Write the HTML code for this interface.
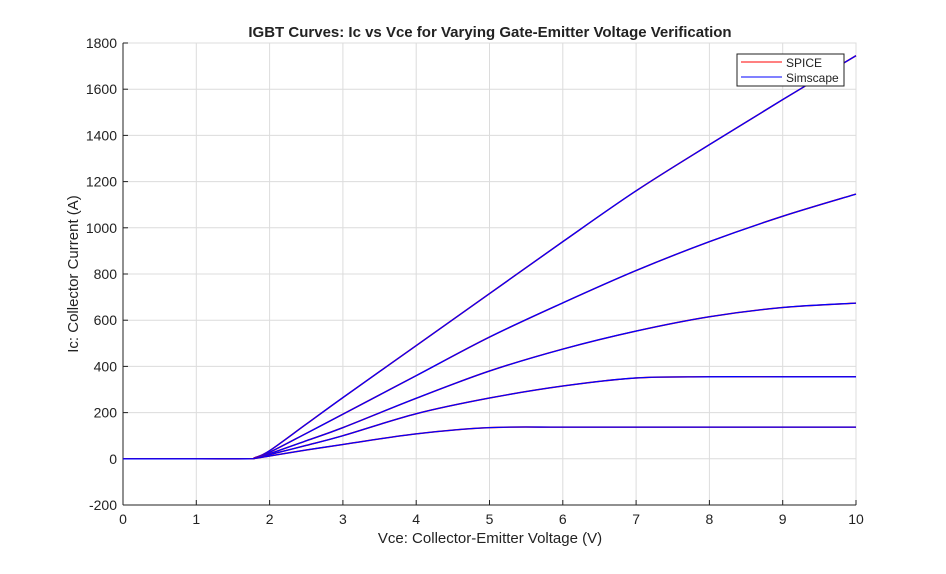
<!DOCTYPE html>
<html><head><meta charset="utf-8"><style>
body{margin:0;background:#fff;font-family:"Liberation Sans",sans-serif}
svg text{font-family:"Liberation Sans",sans-serif}
</style></head><body>
<svg id="chart" width="946" height="569">
<rect width="946" height="569" fill="#fff"/>
<g id="grid"></g><g id="axes"></g><g id="lines"></g>
<text x="490" y="37" text-anchor="middle" font-size="15" font-weight="bold" fill="#222">IGBT Curves: Ic vs Vce for Varying Gate-Emitter Voltage Verification</text>
<text x="490" y="543" text-anchor="middle" font-size="15" fill="#222">Vce: Collector-Emitter Voltage (V)</text>
<text transform="translate(78,274) rotate(-90)" text-anchor="middle" font-size="15" fill="#222">Ic: Collector Current (A)</text>
<g>
<rect x="737" y="54" width="107" height="32" fill="#fff" stroke="#222" stroke-width="1"/>
<line x1="741" y1="62" x2="782" y2="62" stroke="red"/>
<text x="786" y="67" font-size="12" fill="#222">SPICE</text>
<line x1="741" y1="77" x2="782" y2="77" stroke="blue"/>
<text x="786" y="82" font-size="12" fill="#222">Simscape</text>
</g>
</svg>
<script>
const xs=[0,1,1.7,1.8,2,2.5,3,4,5,6,7,8,9,10];
const c1=[0,0,0,5,35,150,265,490,715,940,1160,1360,1555,1745];
const c2=[0,0,0,4,28,110,193,360,527,675,815,940,1050,1146];
const c3=[0,0,0,3,22,78,135,262,380,475,553,615,655,674];
const c4=[0,0,0,2,18,58,100,195,263,315,350,355,355,355];
const c5=[0,0,0,2,12,38,62,108,135,137,137,137,137,137];
const curves=[c1,c2,c3,c4,c5];
const xTicks=[0,1,2,3,4,5,6,7,8,9,10];
const yTicks=[-200,0,200,400,600,800,1000,1200,1400,1600,1800];
const X0=123,X1=856,Y0=505,Y1=43;
const sx=v=>X0+(v-0)/10*(X1-X0);
const sy=v=>Y0-(v+200)/2000*(Y0-Y1);
const NS='http://www.w3.org/2000/svg';
function mk(t,a,p){const e=document.createElementNS(NS,t);for(const k in a)e.setAttribute(k,a[k]);p.appendChild(e);return e;}
const grid=document.getElementById('grid'),axes=document.getElementById('axes'),lines=document.getElementById('lines');
mk('rect',{x:X0,y:Y1,width:X1-X0,height:Y0-Y1,fill:'none',stroke:'#ddd'},grid);
xTicks.forEach(t=>{
 const l=mk('line',{x1:sx(t),x2:sx(t),y1:Y1,y2:Y0,stroke:'#dcdcdc'},grid);
 
 mk('line',{x1:sx(t),x2:sx(t),y1:Y0,y2:Y0-5,stroke:'#222'},axes);
 const tx=mk('text',{x:sx(t),y:Y0+19,'text-anchor':'middle','font-size':14,fill:'#222'},axes);tx.textContent=t;
 
});
yTicks.forEach(t=>{
 const l=mk('line',{x1:X0,x2:X1,y1:sy(t),y2:sy(t),stroke:'#dcdcdc'},grid);
 
 mk('line',{x1:X0,x2:X0+5,y1:sy(t),y2:sy(t),stroke:'#222'},axes);
 const tx=mk('text',{x:X0-6,y:sy(t)+5,'text-anchor':'end','font-size':14,fill:'#222'},axes);tx.textContent=t;
 
});
const xa=mk('line',{x1:X0,x2:X1,y1:Y0,y2:Y0,stroke:'#222'},axes);

const ya=mk('line',{x1:X0,x2:X0,y1:Y0,y2:Y1,stroke:'#222'},axes);

function path(c){let d='';for(let i=0;i<xs.length;i++){
 const p0=[sx(xs[Math.max(i-1,0)]),sy(c[Math.max(i-1,0)])],p1=[sx(xs[i]),sy(c[i])];
 if(i===0){d='M'+p1[0]+','+p1[1];continue;}
 const pm=[sx(xs[Math.max(i-2,0)]),sy(c[Math.max(i-2,0)])],pn=[sx(xs[Math.min(i+1,xs.length-1)]),sy(c[Math.min(i+1,xs.length-1)])];
 const a=[p0[0]+(p1[0]-pm[0])/6,p0[1]+(p1[1]-pm[1])/6],b=[p1[0]-(pn[0]-p0[0])/6,p1[1]-(pn[1]-p0[1])/6];
 d+=' C'+a[0]+','+a[1]+' '+b[0]+','+b[1]+' '+p1[0]+','+p1[1];}
 return d;}
curves.forEach((c,i)=>{
 const r=mk('path',{d:path(c),fill:'none',stroke:'red','stroke-width':1.5},lines);
 
 const b=mk('path',{d:path(c),fill:'none',stroke:'blue','stroke-width':1.3},lines);
 
});
</script>
</body></html>
